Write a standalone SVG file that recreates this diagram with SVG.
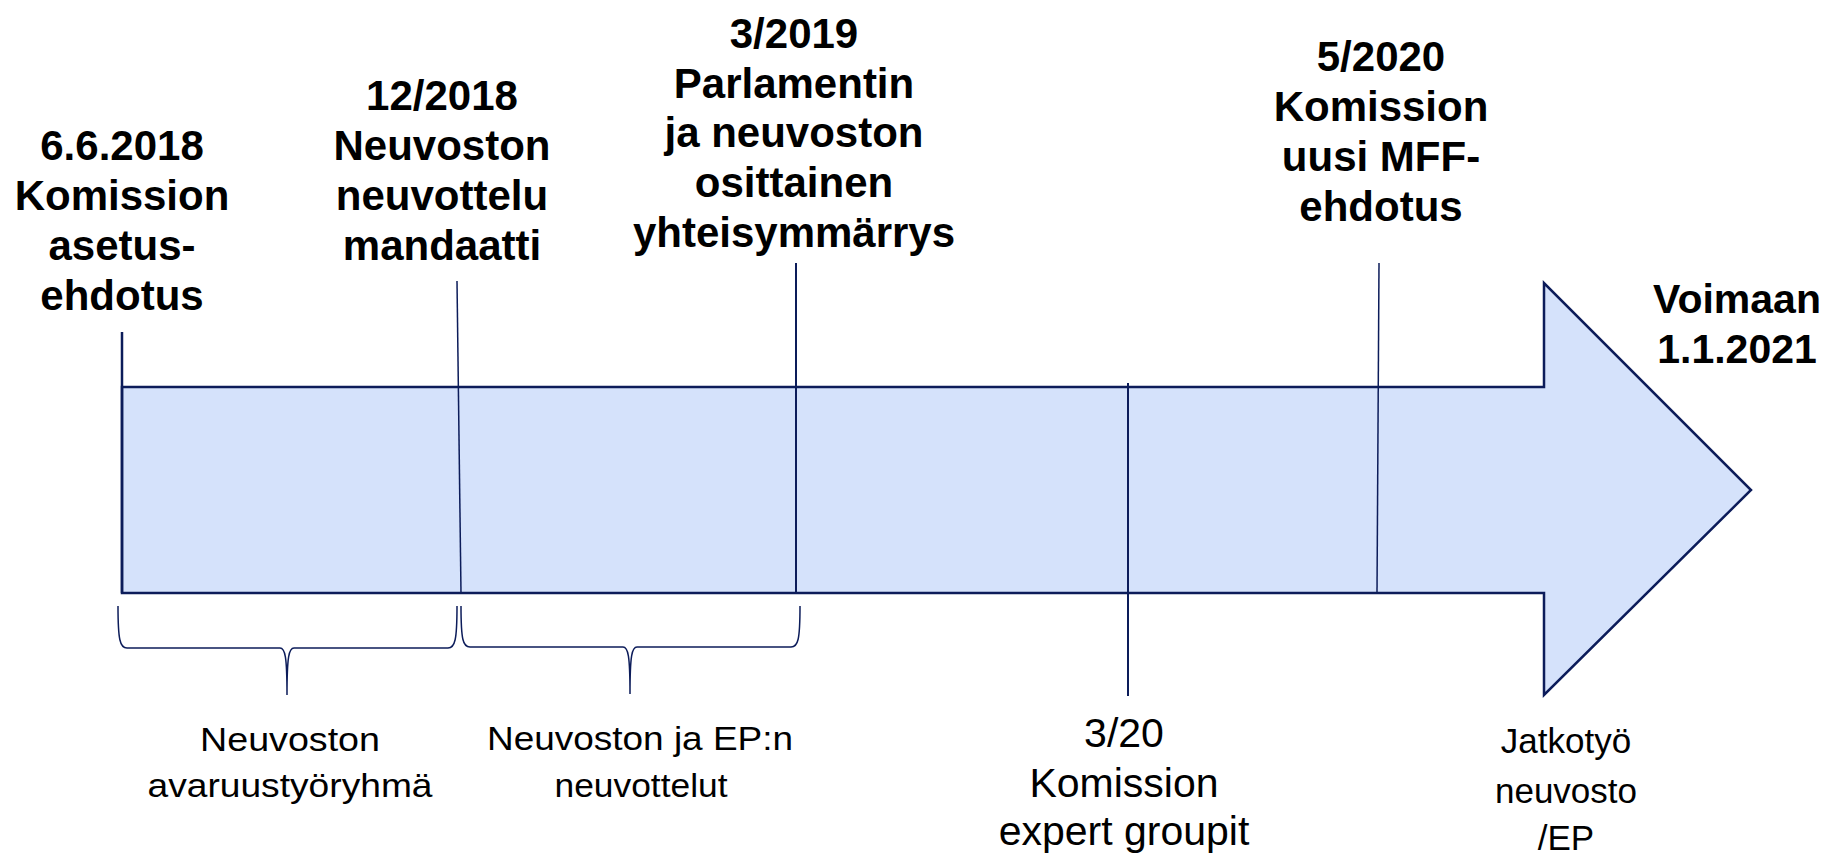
<svg xmlns="http://www.w3.org/2000/svg" width="1831" height="859" viewBox="0 0 1831 859">
<style>
.t{font-family:"Liberation Sans",Arial,sans-serif;font-weight:bold;font-size:42px;fill:#000;text-anchor:middle}
.b{font-family:"Liberation Sans",Arial,sans-serif;font-size:34px;fill:#000;text-anchor:middle}
.c{font-family:"Liberation Sans",Arial,sans-serif;font-size:41px;fill:#000;text-anchor:middle}
.ln{stroke:#0c1c5a;fill:none}
</style>
<rect width="1831" height="859" fill="#fff"/>
<g id="arrow">
<polygon points="122,387 1544,387 1544,283 1751,490 1544,695 1544,593 122,593" fill="#d5e2fb" stroke="#0c1c5a" stroke-width="2.5"/>
</g>
<g id="connectors">
<line class="ln" x1="122" y1="332" x2="122" y2="593" stroke-width="2.5"/>
<line class="ln" x1="457" y1="281" x2="461" y2="593" stroke-width="1.5"/>
<line class="ln" x1="796" y1="263" x2="796" y2="593" stroke-width="2"/>
<line class="ln" x1="1379" y1="263" x2="1377" y2="593" stroke-width="1.5"/>
<line class="ln" x1="1128" y1="383" x2="1128" y2="696" stroke-width="2"/>
<path class="ln" stroke-width="1.5" d="M118,606 C118,640 120,648 127,648 L280,648 C285,648 287,656 287,695 C287,656 289,648 294,648 L448,648 C455,648 457,640 457,606"/>
<path class="ln" stroke-width="1.5" d="M461,606 C461,640 463,647 470,647 L623,647 C628,647 630,655 630,694 C630,655 632,647 637,647 L791,647 C798,647 800,640 800,606"/>
</g>
<g id="n1">
<text class="t"><tspan x="122" y="160">6.6.2018</tspan><tspan x="122" y="210">Komission</tspan><tspan x="122" y="260">asetus-</tspan><tspan x="122" y="310">ehdotus</tspan></text>
</g>
<g id="n2">
<text class="t"><tspan x="442" y="110">12/2018</tspan><tspan x="442" y="160">Neuvoston</tspan><tspan x="442" y="210">neuvottelu</tspan><tspan x="442" y="260">mandaatti</tspan></text>
</g>
<g id="n3">
<text class="t"><tspan x="794" y="48">3/2019</tspan><tspan x="794" y="98">Parlamentin</tspan><tspan x="794" y="147">ja neuvoston</tspan><tspan x="794" y="197">osittainen</tspan><tspan x="794" y="247">yhteisymmärrys</tspan></text>
</g>
<g id="n4">
<text class="t"><tspan x="1381" y="71">5/2020</tspan><tspan x="1381" y="121">Komission</tspan><tspan x="1381" y="171">uusi MFF-</tspan><tspan x="1381" y="221">ehdotus</tspan></text>
</g>
<g id="n5">
<text class="t" style="font-size:41px"><tspan x="1737" y="313">Voimaan</tspan><tspan x="1737" y="363">1.1.2021</tspan></text>
</g>
<g id="n6">
<text class="b"><tspan x="290" y="751" textLength="180" lengthAdjust="spacingAndGlyphs">Neuvoston</tspan><tspan x="290" y="797" textLength="285" lengthAdjust="spacingAndGlyphs">avaruustyöryhmä</tspan></text>
</g>
<g id="n7">
<text class="b"><tspan x="640" y="750" textLength="306" lengthAdjust="spacingAndGlyphs">Neuvoston ja EP:n</tspan><tspan x="641" y="797" textLength="173" lengthAdjust="spacingAndGlyphs">neuvottelut</tspan></text>
</g>
<g id="n8">
<text class="c"><tspan x="1124" y="747">3/20</tspan><tspan x="1124" y="797">Komission</tspan><tspan x="1124" y="845">expert groupit</tspan></text>
</g>
<g id="n9">
<text class="b" style="font-size:35px"><tspan x="1566" y="753">Jatkotyö</tspan><tspan x="1566" y="803">neuvosto</tspan><tspan x="1566" y="850">/EP</tspan></text>
</g>
</svg>
